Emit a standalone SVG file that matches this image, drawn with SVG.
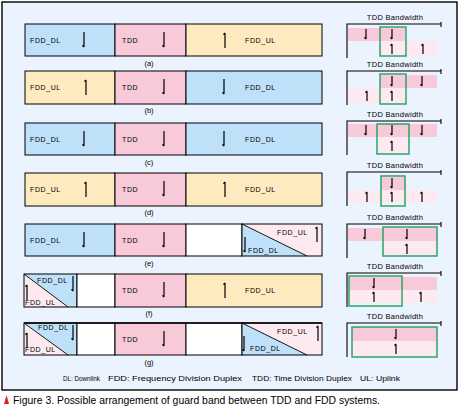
<svg xmlns="http://www.w3.org/2000/svg" xmlns:xlink="http://www.w3.org/1999/xlink" width="460" height="410" viewBox="0 0 460 410">
<style>
.bg{fill:#EBF3FE;stroke:#000;stroke-width:1.4}
.seg{stroke:#000;stroke-width:1}
.blue{fill:#BEE0F8}
.pink{fill:#F8C9D8}
.yel{fill:#FDEBBF}
.wht{fill:#FFFFFF}
.lp{fill:#FDEAF0}
.dk{fill:#F8C9D8}
.ar{stroke:#000;stroke-width:1.2;fill:none}
.t{font-family:"Liberation Sans",Arial,sans-serif;font-size:7px;fill:#000;letter-spacing:0.6px}
.lbl{font-family:"Liberation Sans",Arial,sans-serif;font-size:7.5px;fill:#000;text-anchor:middle}
.bw{font-family:"Liberation Sans",Arial,sans-serif;font-size:7.5px;fill:#000;text-anchor:middle;letter-spacing:0.3px}
.br{stroke:#000;stroke-width:1.1;fill:none}
.box{fill:none;stroke:#1E9E60;stroke-width:1.4}
.diag{stroke:#000;stroke-width:0.9}
.leg{font-family:"Liberation Sans",Arial,sans-serif;font-size:7.5px;fill:#000}
.cap{font-family:"Liberation Sans",Arial,sans-serif;font-size:10px;fill:#000}
</style>
<defs>
<path id="dA" class="ar" d="M0,0V15M-1.6,13.4L0,15"/>
<path id="uA" class="ar" d="M0,0V15M-1.6,1.6L0,0"/>
<path id="ds" class="ar" d="M0,0V10M-1.6,8.4L0,10"/>
<path id="us" class="ar" d="M0,0V10M-1.6,1.6L0,0"/>
</defs>
<rect class="bg" x="2" y="2" width="455" height="388"/>

<g id="row-a" transform="translate(0,24)">
<rect class="seg blue" x="25" y="0" width="90" height="32"/>
<rect class="seg pink" x="115" y="0" width="71" height="32"/>
<rect class="seg yel" x="186" y="0" width="136" height="32"/>
<text class="t" x="30" y="18.5">FDD_DL</text><use href="#dA" x="84" y="8"/>
<text class="t" x="122" y="18.5">TDD</text><use href="#dA" x="164" y="8"/>
<use href="#uA" x="225" y="9"/><text class="t" x="245" y="18.5">FDD_UL</text>
<text class="lbl" x="149" y="41.5">(a)</text>
</g>
<g id="row-b" transform="translate(0,71)">
<rect class="seg yel" x="25" y="0" width="90" height="33"/>
<rect class="seg pink" x="115" y="0" width="71" height="33"/>
<rect class="seg blue" x="186" y="0" width="136" height="33"/>
<text class="t" x="30" y="19">FDD_UL</text><use href="#uA" x="86" y="9"/>
<text class="t" x="122" y="19">TDD</text><use href="#dA" x="164" y="8"/>
<use href="#dA" x="224" y="8"/><text class="t" x="245" y="19">FDD_DL</text>
<text class="lbl" x="149" y="41.5">(b)</text>
</g>
<g id="row-c" transform="translate(0,123)">
<rect class="seg blue" x="25" y="0" width="90" height="32"/>
<rect class="seg pink" x="115" y="0" width="71" height="32"/>
<rect class="seg blue" x="186" y="0" width="136" height="32"/>
<text class="t" x="30" y="18.5">FDD_DL</text><use href="#dA" x="84" y="8"/>
<text class="t" x="122" y="18.5">TDD</text><use href="#dA" x="164" y="8"/>
<use href="#dA" x="224" y="8"/><text class="t" x="245" y="18.5">FDD_DL</text>
<text class="lbl" x="149" y="41.5">(c)</text>
</g>
<g id="row-d" transform="translate(0,173)">
<rect class="seg yel" x="25" y="0" width="90" height="33"/>
<rect class="seg pink" x="115" y="0" width="71" height="33"/>
<rect class="seg yel" x="186" y="0" width="136" height="33"/>
<text class="t" x="30" y="19">FDD_UL</text><use href="#uA" x="86" y="9"/>
<text class="t" x="122" y="19">TDD</text><use href="#dA" x="164" y="8"/>
<use href="#uA" x="225" y="9"/><text class="t" x="245" y="19">FDD_UL</text>
<text class="lbl" x="149" y="41.5">(d)</text>
</g>
<g id="row-e" transform="translate(0,224)">
<rect class="seg blue" x="25" y="0" width="90" height="32"/>
<rect class="seg pink" x="115" y="0" width="71" height="32"/>
<rect class="seg wht" x="186" y="0" width="56" height="32"/>
<polygon class="lp" points="242,0 322,0 322,32 307,32"/>
<polygon class="blue" points="242,0 307,32 242,32"/>
<line class="diag" x1="242" y1="0" x2="307" y2="32"/>
<rect class="seg" fill="none" x="242" y="0" width="80" height="32"/>
<text class="t" x="30" y="18.5">FDD_DL</text><use href="#dA" x="84" y="8"/>
<text class="t" x="122" y="18.5">TDD</text><use href="#dA" x="164" y="8"/>
<text class="t" x="277" y="11">FDD_UL</text><use href="#uA" x="317" y="3"/>
<text class="t" x="248" y="28.5">FDD_DL</text><use href="#dA" x="245" y="13"/>
<text class="lbl" x="149" y="41.5">(e)</text>
</g>
<g id="row-f" transform="translate(0,274)">
<polygon class="blue" points="24,0 77,0 77,33 68,33"/>
<polygon class="lp" points="24,0 68,33 24,33"/>
<line class="diag" x1="24" y1="0" x2="68" y2="33"/>
<rect class="seg" fill="none" x="24" y="0" width="53" height="33"/>
<rect class="seg wht" x="77" y="0" width="38" height="33"/>
<rect class="seg pink" x="115" y="0" width="71" height="33"/>
<rect class="seg yel" x="186" y="0" width="136" height="33"/>
<text class="t" x="37" y="8.5">FDD_DL</text><use href="#dA" x="73" y="2"/>
<text class="t" x="25" y="30.5">FDD_UL</text><use href="#uA" x="27" y="11"/>
<text class="t" x="122" y="19">TDD</text><use href="#dA" x="164" y="8"/>
<use href="#uA" x="225" y="9"/><text class="t" x="245" y="19">FDD_UL</text>
<text class="lbl" x="149" y="41.5">(f)</text>
</g>
<g id="row-g" transform="translate(0,323)">
<polygon class="blue" points="24,0 77,0 77,32 68,32"/>
<polygon class="lp" points="24,0 68,32 24,32"/>
<line class="diag" x1="24" y1="0" x2="68" y2="32"/>
<rect class="seg" fill="none" x="24" y="0" width="53" height="32"/>
<rect class="seg wht" x="77" y="0" width="38" height="32"/>
<rect class="seg pink" x="115" y="0" width="71" height="32"/>
<rect class="seg wht" x="186" y="0" width="56" height="32"/>
<polygon class="lp" points="242,0 322,0 322,32 307,32"/>
<polygon class="blue" points="242,0 307,32 242,32"/>
<line class="diag" x1="242" y1="0" x2="307" y2="32"/>
<rect class="seg" fill="none" x="242" y="0" width="80" height="32"/>
<line x1="24" y1="0" x2="322" y2="0" stroke="#000" stroke-width="1.6"/>
<text class="t" x="38" y="7">FDD_DL</text><use href="#dA" x="73" y="2"/>
<text class="t" x="25" y="29">FDD_UL</text><use href="#uA" x="27" y="10"/>
<text class="t" x="122" y="18.5">TDD</text><use href="#dA" x="164" y="8"/>
<text class="t" x="277" y="11">FDD_UL</text><use href="#uA" x="318" y="3"/>
<text class="t" x="250" y="28">FDD_DL</text><use href="#dA" x="244" y="13"/>
<text class="lbl" x="149" y="41.5">(g)</text>
</g>

<g id="bw-a" transform="translate(0,24)">
<rect class="dk" x="348" y="4" width="57" height="13"/>
<rect class="lp" x="380" y="17" width="57" height="15"/>
<rect class="box" x="380" y="3" width="26" height="29"/>
<use href="#ds" x="366" y="5"/><use href="#ds" x="392" y="5"/>
<use href="#us" x="392" y="20"/><use href="#us" x="423" y="20"/>
</g>
<g id="bw-b" transform="translate(0,71)">
<rect class="dk" x="380" y="4" width="57" height="13"/>
<rect class="lp" x="348" y="17" width="57" height="15"/>
<rect class="box" x="380" y="3" width="26" height="30"/>
<use href="#ds" x="392" y="5"/><use href="#ds" x="422" y="5"/>
<use href="#us" x="367" y="20"/><use href="#us" x="392" y="20"/>
</g>
<g id="bw-c" transform="translate(0,121)">
<rect class="dk" x="348" y="3" width="89" height="13"/>
<rect class="lp" x="377" y="16" width="32" height="16"/>
<rect class="box" x="377" y="3" width="32" height="30"/>
<use href="#ds" x="366" y="4"/><use href="#ds" x="392" y="4"/><use href="#ds" x="422" y="4"/>
<use href="#us" x="392" y="20"/>
</g>
<g id="bw-d" transform="translate(0,172)">
<rect class="dk" x="381" y="5" width="24" height="13"/>
<rect class="lp" x="348" y="18" width="89" height="13"/>
<rect class="box" x="381" y="4" width="24" height="30"/>
<use href="#ds" x="392" y="6"/>
<use href="#us" x="367" y="20"/><use href="#us" x="392" y="20"/><use href="#us" x="422" y="20"/>
</g>
<g id="bw-e" transform="translate(0,224)">
<rect class="dk" x="348" y="4" width="89" height="13"/>
<rect class="lp" x="383" y="17" width="54" height="15"/>
<rect class="box" x="383" y="3" width="54" height="29"/>
<use href="#ds" x="365" y="5"/><use href="#ds" x="407" y="5"/>
<use href="#us" x="407" y="20"/>
</g>
<g id="bw-f" transform="translate(0,273)">
<rect class="dk" x="349" y="4" width="88" height="13"/>
<rect class="lp" x="349" y="17" width="88" height="13"/>
<rect class="box" x="349" y="3" width="53" height="30"/>
<use href="#ds" x="374" y="5"/>
<use href="#us" x="374" y="19"/><use href="#us" x="421" y="19"/>
</g>
<g id="bw-g" transform="translate(0,323)">
<rect class="dk" x="352" y="4" width="85" height="14"/>
<rect class="lp" x="352" y="18" width="85" height="16"/>
<rect class="box" x="352" y="4" width="85" height="30"/>
<use href="#ds" x="396" y="6"/>
<use href="#us" x="396" y="21"/>
</g>

<g id="connectors">
<g transform="translate(0,24)"><text class="bw" x="395" y="-4.5">TDD Bandwidth</text><path class="br" d="M347,34V0H441M441,-2V3"/></g>
<g transform="translate(0,71)"><text class="bw" x="395" y="-4.5">TDD Bandwidth</text><path class="br" d="M347,34V0H441M441,-2V3"/></g>
<g transform="translate(0,121)"><text class="bw" x="395" y="-4.5">TDD Bandwidth</text><path class="br" d="M347,34V0H441M441,-2V3"/></g>
<g transform="translate(0,172)"><text class="bw" x="395" y="-4.5">TDD Bandwidth</text><path class="br" d="M347,34V0H441M441,-2V3"/></g>
<g transform="translate(0,224)"><text class="bw" x="395" y="-4.5">TDD Bandwidth</text><path class="br" d="M347,34V0H441M441,-2V3"/></g>
<g transform="translate(0,273)"><text class="bw" x="395" y="-4.5">TDD Bandwidth</text><path class="br" d="M347,34V0H441M441,-2V3"/></g>
<g transform="translate(0,323)"><text class="bw" x="395" y="-4.5">TDD Bandwidth</text><path class="br" d="M347,34V0H441M441,-2V3"/></g>
</g>

<g id="legend">
<text class="leg" x="63" y="381" textLength="37" lengthAdjust="spacingAndGlyphs">DL: Downlink</text>
<text class="leg" x="108" y="381" textLength="134" lengthAdjust="spacingAndGlyphs">FDD: Frequency Division Duplex</text>
<text class="leg" x="252" y="381" textLength="100" lengthAdjust="spacingAndGlyphs">TDD: Time Division Duplex</text>
<text class="leg" x="360" y="381" textLength="40" lengthAdjust="spacingAndGlyphs">UL: Uplink</text>
</g>
<g id="caption">
<polygon points="4,404 6.5,395 9,404" fill="#E0202A"/>
<text class="cap" x="13" y="404" textLength="367" lengthAdjust="spacingAndGlyphs">Figure 3. Possible arrangement of guard band between TDD and FDD systems.</text>
</g>
</svg>
